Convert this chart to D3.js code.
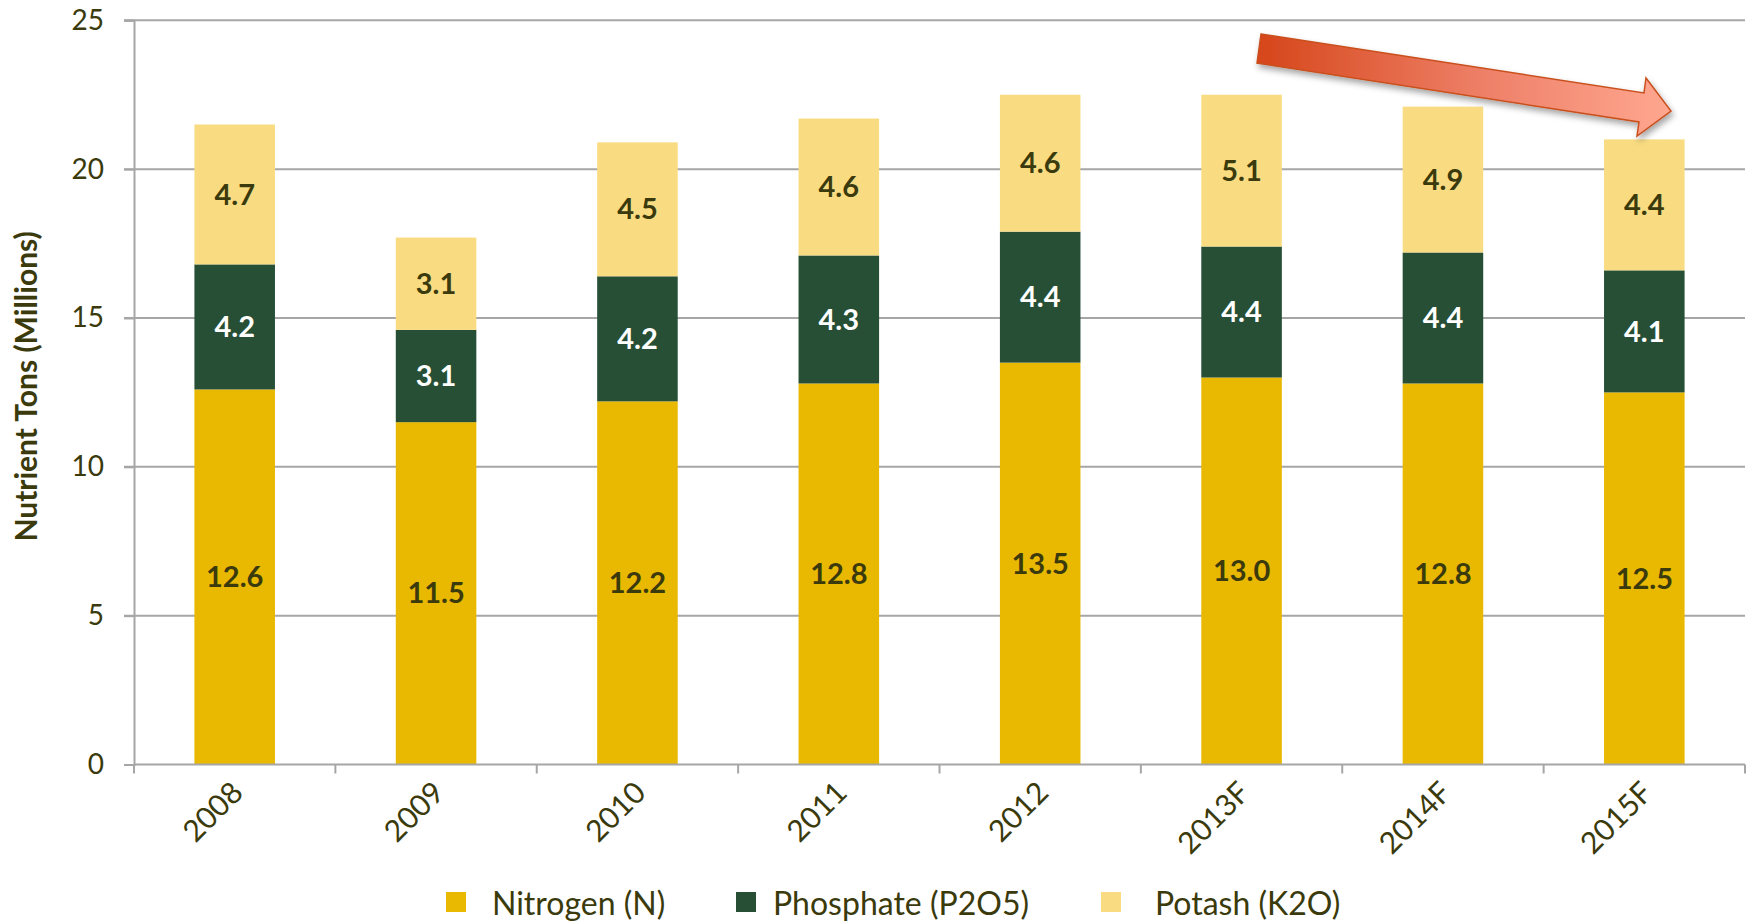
<!DOCTYPE html>
<html>
<head>
<meta charset="utf-8">
<script src="https://cdn.jsdelivr.net/npm/d3@7"></script>
<style>
	body { margin: 0; background: #fff; }
	svg { display: block; font-family: Lato, "Open Sans", sans-serif; }
</style>
</head>
<body>
<svg id="chart" width="1748" height="922"></svg>
<script>
'use strict';

var arrayYears = ['2008', '2009', '2010', '2011', '2012', '2013F', '2014F', '2015F'];
var arrayNitrogen = [12.6, 11.5, 12.2, 12.8, 13.5, 13.0, 12.8, 12.5];
var arrayPhosphate = [4.2, 3.1, 4.2, 4.3, 4.4, 4.4, 4.4, 4.1];
var arrayPotash = [4.7, 3.1, 4.5, 4.6, 4.6, 5.1, 4.9, 4.4];
var arraySeriesNames = ['Nitrogen (N)', 'Phosphate (P2O5)', 'Potash (K2O)'];
var arrayYTicks = [0, 5, 10, 15, 20, 25];

var arrayColors = ['#E9B800', '#264F36', '#F9DC82'];
var arrayLabelColors = ['#3a3a0c', '#ffffff', '#3a3a0c'];
var strTextColor = '#3a3a0c';
var strGridColor = '#a6a6a6';

var svg = d3.select('#chart');

var nLeft = 134, nRight = 1745, nTop = 20.3, nBottom = 764.5;

var xScale = d3.scaleBand()
	.domain(arrayYears)
	.range([nLeft, nRight])
	.paddingInner(0.6)
	.paddingOuter(0.3);

var yScale = d3.scaleLinear()
	.domain([0, 25])
	.range([nBottom, nTop]);

// build stack input from the small arrays
var arrayRows = arrayYears.map(function(strYear, i) {
	return { year: strYear, n: arrayNitrogen[i], p: arrayPhosphate[i], k: arrayPotash[i] };
});
var arrayKeys = ['n', 'p', 'k'];
var stacked = d3.stack().keys(arrayKeys)(arrayRows);

// gridlines
svg.append('g')
	.selectAll('line')
	.data(arrayYTicks.filter(function(d) { return d > 0; }))
	.enter()
	.append('line')
	.attr('x1', nLeft - 10)
	.attr('x2', nRight)
	.attr('y1', function(d) { return yScale(d); })
	.attr('y2', function(d) { return yScale(d); })
	.attr('stroke', strGridColor)
	.attr('stroke-width', 2);

// y axis
var yAxis = svg.append('g')
	.attr('transform', 'translate(' + nLeft + ',0)')
	.call(d3.axisLeft(yScale).tickValues(arrayYTicks).tickSize(10).tickPadding(20));
yAxis.select('.domain').attr('stroke', strGridColor).attr('stroke-width', 2);
yAxis.selectAll('.tick line').attr('stroke', strGridColor).attr('stroke-width', 2);
yAxis.selectAll('.tick text')
	.attr('fill', strTextColor)
	.style('font-size', '28px')
	.style('font-family', 'Lato, sans-serif');

// bars
var groups = svg.append('g')
	.selectAll('g')
	.data(stacked)
	.enter()
	.append('g')
	.attr('fill', function(d, i) { return arrayColors[i]; });

groups.selectAll('rect')
	.data(function(d) { return d; })
	.enter()
	.append('rect')
	.attr('x', function(d) { return xScale(d.data.year); })
	.attr('width', xScale.bandwidth())
	.attr('y', function(d) { return yScale(d[1]); })
	.attr('height', function(d) { return yScale(d[0]) - yScale(d[1]); });

// value labels
stacked.forEach(function(series, si) {
	svg.append('g')
		.selectAll('text')
		.data(series)
		.enter()
		.append('text')
		.attr('x', function(d) { return xScale(d.data.year) + xScale.bandwidth() / 2; })
		.attr('y', function(d) { return (yScale(d[0]) + yScale(d[1])) / 2; })
		.attr('dy', '0.35em')
		.attr('text-anchor', 'middle')
		.attr('fill', arrayLabelColors[si])
		.style('font-size', '29px')
		.style('font-weight', 'bold')
		.text(function(d) { return d3.format('.1f')(d[1] - d[0]); });
});

// x axis
var nStep = xScale.step();
var xAxisG = svg.append('g');
xAxisG.append('line')
	.attr('x1', nLeft).attr('x2', nRight)
	.attr('y1', nBottom).attr('y2', nBottom)
	.attr('stroke', strGridColor).attr('stroke-width', 2);
xAxisG.selectAll('line.tk')
	.data(d3.range(arrayYears.length + 1))
	.enter()
	.append('line')
	.attr('class', 'tk')
	.attr('x1', function(i) { return nLeft + i * nStep; })
	.attr('x2', function(i) { return nLeft + i * nStep; })
	.attr('y1', nBottom)
	.attr('y2', nBottom + 9)
	.attr('stroke', strGridColor).attr('stroke-width', 2);
xAxisG.selectAll('text')
	.data(arrayYears)
	.enter()
	.append('text')
	.attr('text-anchor', 'end')
	.attr('fill', strTextColor)
	.style('font-size', '30px')
	.attr('transform', function(d) {
		var nX = xScale(d) + xScale.bandwidth() / 2 + 10;
		return 'translate(' + nX + ',' + (nBottom + 30) + ') rotate(-45)';
	})
	.text(function(d) { return d; });

// y axis title
svg.append('text')
	.attr('transform', 'translate(37,' + ((nTop + nBottom) / 2 - 6) + ') rotate(-90)')
	.attr('text-anchor', 'middle')
	.attr('fill', strTextColor)
	.style('font-size', '30px')
	.style('font-weight', 'bold')
	.text('Nutrient Tons (Millions)');

// legend
var arrayLegendSquareX = [446, 736, 1101];
var arrayLegendTextX = [492, 773, 1155];
var legend = svg.append('g');
arraySeriesNames.forEach(function(strName, i) {
	legend.append('rect')
		.attr('x', arrayLegendSquareX[i])
		.attr('y', 892)
		.attr('width', 20)
		.attr('height', 20)
		.attr('fill', arrayColors[i]);
	legend.append('text')
		.attr('x', arrayLegendTextX[i])
		.attr('y', 915)
		.attr('fill', strTextColor)
		.style('font-size', '32px')
		.text(strName);
});

// trend arrow annotation
var defs = svg.append('defs');
var grad = defs.append('linearGradient')
	.attr('id', 'arrowGrad')
	.attr('gradientUnits', 'userSpaceOnUse')
	.attr('x1', 1257).attr('x2', 1671).attr('y1', 0).attr('y2', 0);
grad.append('stop').attr('offset', '0%').attr('stop-color', '#D6461A');
grad.append('stop').attr('offset', '55%').attr('stop-color', '#EE8068');
grad.append('stop').attr('offset', '100%').attr('stop-color', '#FFA790');

var shadow = defs.append('filter').attr('id', 'arrowShadow')
	.attr('x', '-10%').attr('y', '-30%').attr('width', '130%').attr('height', '190%');
shadow.append('feDropShadow')
	.attr('dx', 2).attr('dy', 4).attr('stdDeviation', 3)
	.attr('flood-color', '#000').attr('flood-opacity', 0.35);

var arrayArrowPts = [[1261, 34], [1644, 93], [1646, 78], [1671, 111], [1637, 136], [1639, 122], [1257, 63]];
svg.append('polygon')
	.attr('points', arrayArrowPts.map(function(p) { return p.join(','); }).join(' '))
	.attr('fill', 'url(#arrowGrad)')
	.attr('stroke', '#C9501E')
	.attr('stroke-width', 1.5)
	.attr('stroke-linejoin', 'miter')
	.attr('filter', 'url(#arrowShadow)');
</script>
</body>
</html>
